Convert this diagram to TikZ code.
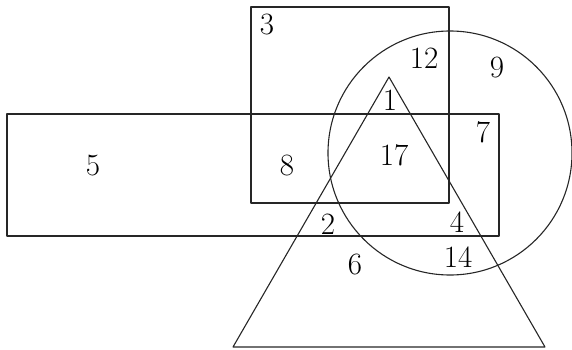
\documentclass[tikz,border=0pt]{standalone}
\begin{document}
\begin{tikzpicture}[x=1pt,y=-1pt,line cap=round,line join=round,
  outline/.style={draw,line width=1.1pt,black!85},
  region/.style={font=\fontsize{31}{31}\selectfont,inner sep=0pt}]
\useasboundingbox (0,0) rectangle (572,350);
% the four sets
\draw[outline] (251,7) rectangle (449,203);
\draw[outline] (7,114) rectangle (499,236);
\draw[outline] (450,153) circle[radius=122];
\draw[outline] (389,77) -- (233,347) -- (545,347) -- cycle;
% counts in the regions
\foreach \x/\y/\t in
  {267/25/3, 424/58/12, 497/68/9, 390/100/1,
   483/132/7, 394/155/17, 93/166/5, 287/166/8,
   328/224/2, 457/222/4, 458/257/14, 355/264/6}
{
  \node[region] (r\t) at (\x,\y) {\t};
}
\end{tikzpicture}
\end{document}
